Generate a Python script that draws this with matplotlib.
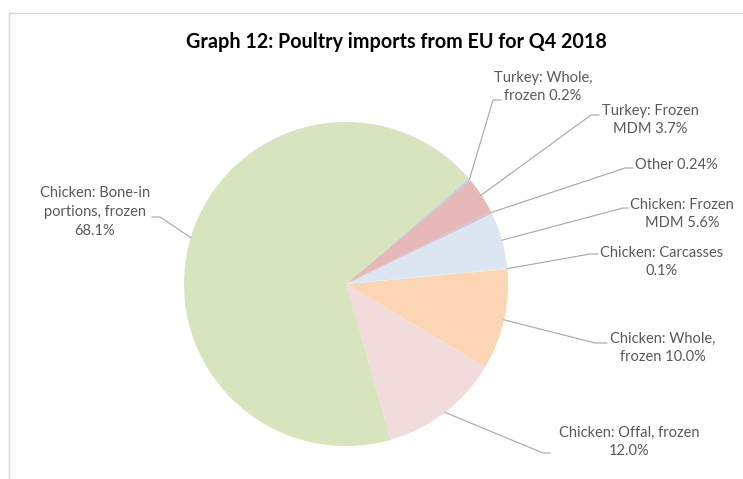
import numpy as np
import matplotlib.pyplot as plt

# slice data, in drawing order (counterclockwise from the offal slice)
labels = ["Chicken: Offal, frozen\n12.0%",
          "Chicken: Whole,\nfrozen 10.0%",
          "Chicken: Carcasses\n0.1%",
          "Chicken: Frozen\nMDM 5.6%",
          "Other 0.24%",
          "Turkey: Frozen\nMDM 3.7%",
          "Turkey: Whole,\nfrozen 0.2%",
          "Chicken: Bone-in\nportions, frozen\n68.1%"]
shares = [12.0, 10.0, 0.1, 5.6, 0.24, 3.7, 0.2, 68.1]
colors = ["#f2dcdb", "#fcd5b5", "#ffe699", "#dce6f2", "#ccc1da",
          "#e6b9b8", "#b9cde5", "#d7e4bd"]

# label layout in pixels: text centre, elbow point, line end
label_xy = [(629, 442), (663, 348), (662, 262), (682, 214), (676, 165),
            (650, 120), (543, 87), (95, 212)]
elbow_xy = [(543, 453), (595, 343), (590, 254), (623, 208), (625, 168),
            (591, 115), (493, 100), (160, 217)]
end_xy = [(550, 453), (607, 343), (598, 254), (628, 208), (633, 168),
          (599, 115), (501, 100), (152, 217)]

W, H = 743, 479
cx, cy, r = 346, 284, 162

plt.rcParams['font.family'] = ['Lato', 'DejaVu Sans']

fig = plt.figure(figsize=(W / 100, H / 100), dpi=100)
ax = fig.add_axes([0, 0, 1, 1])

wedges, _ = ax.pie(shares, colors=colors, startangle=-74, counterclock=True,
                   center=(cx, H - cy), radius=r, frame=True,
                   wedgeprops=dict(linewidth=0))
ax.set_xlim(0, W)
ax.set_ylim(0, H)
ax.set_aspect('equal')
ax.axis('off')

for w, lab, txy, exy, nxy in zip(wedges, labels, label_xy, elbow_xy, end_xy):
    mid = np.deg2rad((w.theta1 + w.theta2) / 2)
    ax_x = cx + r * np.cos(mid)
    ax_y = (H - cy) + r * np.sin(mid)
    ax.plot([ax_x, exy[0], nxy[0]], [ax_y, H - exy[1], H - nxy[1]],
            color="#a6a6a6", lw=0.8)
    ax.text(txy[0], H - txy[1], lab, ha='center', va='center',
            fontsize=10.5, color="#595959", linespacing=1.45)

ax.text(396, H - 42, "Graph 12: Poultry imports from EU for Q4 2018",
        ha='center', va='center', fontsize=14.2, fontweight='bold', color="#000000")

# chart frame (cropped on the right and bottom)
ax.plot([9, W], [H - 12.7, H - 12.7], color="#d9d9d9", lw=1)
ax.plot([9, 9], [H - 12.7, 0], color="#d9d9d9", lw=1)

fig.savefig("out.png", dpi=100)
